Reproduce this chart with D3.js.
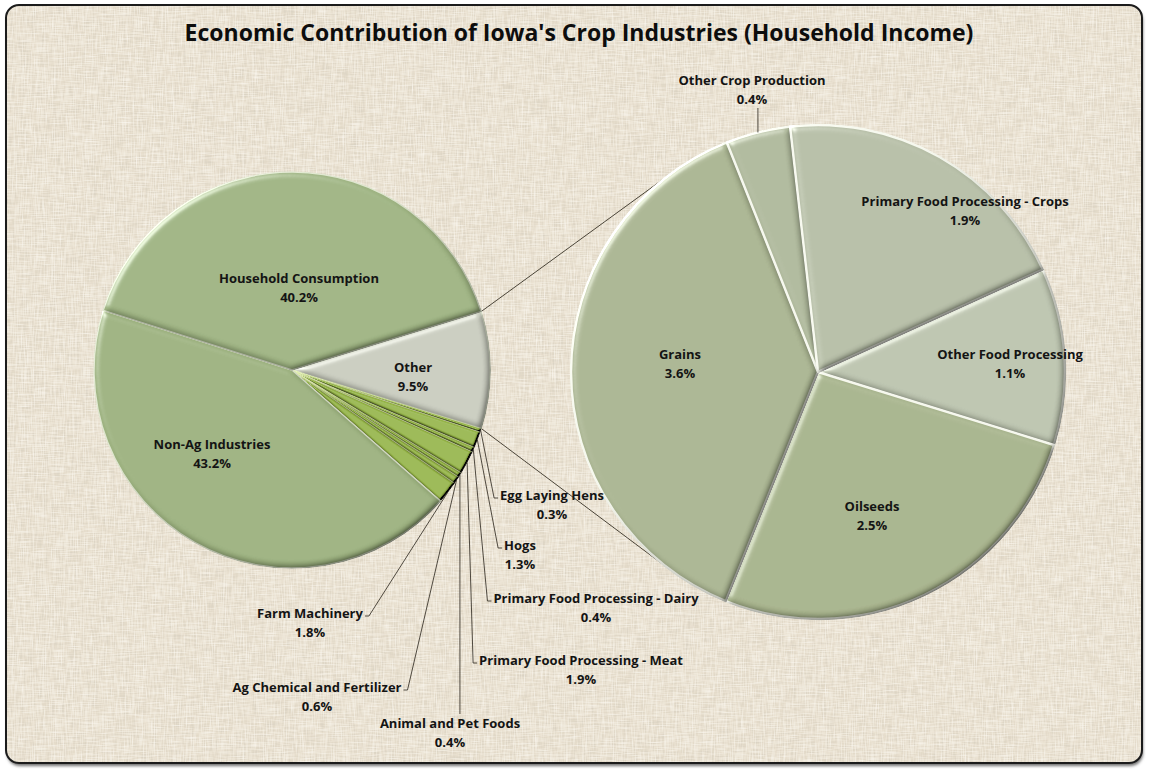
<!DOCTYPE html>
<html>
<head>
<meta charset="utf-8">
<script src="https://cdn.jsdelivr.net/npm/d3@7"></script>
<style>
  html, body { margin: 0; padding: 0; background: #ffffff; }
  svg { display: block; }
</style>
</head>
<body>
<svg id="chart" width="1149" height="771"></svg>
<script>
// ---- Data --------------------------------------------------------------
const chartTitle = "Economic Contribution of Iowa's Crop Industries (Household Income)";

// Main pie, listed clockwise starting with the "Other" slice that is broken out
const mainCategories = [
  "Other",
  "Egg Laying Hens",
  "Hogs",
  "Primary Food Processing - Dairy",
  "Primary Food Processing - Meat",
  "Animal and Pet Foods",
  "Ag Chemical and Fertilizer",
  "Farm Machinery",
  "Non-Ag Industries",
  "Household Consumption"
];
const mainValues = [9.5, 0.3, 1.3, 0.4, 1.9, 0.4, 0.6, 1.8, 43.2, 40.2];

// Breakdown of "Other" (crop industries), clockwise
const detailCategories = [
  "Other Food Processing",
  "Oilseeds",
  "Grains",
  "Other Crop Production",
  "Primary Food Processing - Crops"
];
const detailValues = [1.1, 2.5, 3.6, 0.4, 1.9];

// ---- Layout ------------------------------------------------------------
const W = 1149, H = 771;
const mainPie = { cx: 292, cy: 370, r: 198 };
const detailPie = { cx: 818, cy: 372, r: 247, startDeg: 65.5 };

const mainColors = {
  "Other": "#c8cbbe",
  "Non-Ag Industries": "#9bb07e",
  "Household Consumption": "#9db281"
};
const smallSliceColor = "#96b548";
const detailColors = {
  "Other Food Processing": "#bbc3ae",
  "Oilseeds": "#a6b28b",
  "Grains": "#a9b491",
  "Other Crop Production": "#aeb89b",
  "Primary Food Processing - Crops": "#b5bda6"
};

// Label centres (first line) for labels drawn inside slices
const insideLabels = {
  "Household Consumption": [299, 278],
  "Non-Ag Industries": [212, 444],
  "Other": [413, 367],
  "Grains": [680, 354],
  "Oilseeds": [872, 506],
  "Other Food Processing": [1010, 354],
  "Primary Food Processing - Crops": [965, 201]
};
// Callout labels with leader lines; side = where the leader meets the label
const calloutLabels = {
  "Egg Laying Hens": { x: 552, y: 495, side: "left" },
  "Hogs": { x: 520, y: 545, side: "left" },
  "Primary Food Processing - Dairy": { x: 596, y: 598, side: "left" },
  "Primary Food Processing - Meat": { x: 581, y: 660, side: "left" },
  "Animal and Pet Foods": { x: 450, y: 723, side: "top" },
  "Ag Chemical and Fertilizer": { x: 317, y: 687, side: "right" },
  "Farm Machinery": { x: 310, y: 613, side: "right" },
  "Other Crop Production": { x: 752, y: 80, side: "bottom" }
};

const fontFamily = "'Open Sans', 'Noto Sans', 'DejaVu Sans', sans-serif";
const lineGap = 19;
const fmtPct = v => d3.format(".1f")(v) + "%";
const rad = deg => deg * Math.PI / 180;

const svg = d3.select("#chart");
const defs = svg.append("defs");

// ---- Filters -------------------------------------------------------------
// Woven linen texture for the chart area
const linen = defs.append("filter").attr("id", "linen")
  .attr("filterUnits", "userSpaceOnUse")
  .attr("x", 0).attr("y", 0).attr("width", W).attr("height", H);
linen.append("feTurbulence").attr("type", "fractalNoise")
  .attr("baseFrequency", "1.1 0.06").attr("numOctaves", 2).attr("seed", 4).attr("result", "vt");
linen.append("feTurbulence").attr("type", "fractalNoise")
  .attr("baseFrequency", "0.06 1.1").attr("numOctaves", 2).attr("seed", 9).attr("result", "ht");
linen.append("feColorMatrix").attr("in", "vt").attr("type", "matrix")
  .attr("values", "0 0 0 0 0.58  0 0 0 0 0.55  0 0 0 0 0.48  -0.9 0 0 0 0.44").attr("result", "vd");
linen.append("feColorMatrix").attr("in", "ht").attr("type", "matrix")
  .attr("values", "0 0 0 0 0.58  0 0 0 0 0.55  0 0 0 0 0.48  -0.9 0 0 0 0.44").attr("result", "hd");
linen.append("feColorMatrix").attr("in", "ht").attr("type", "matrix")
  .attr("values", "0 0 0 0 0.99  0 0 0 0 0.97  0 0 0 0 0.92  1.2 0 0 0 -0.52").attr("result", "hl");
linen.append("feColorMatrix").attr("in", "vt").attr("type", "matrix")
  .attr("values", "0 0 0 0 0.99  0 0 0 0 0.97  0 0 0 0 0.92  1.2 0 0 0 -0.52").attr("result", "vl");
const lm = linen.append("feMerge").attr("result", "woven");
["SourceGraphic", "vd", "hd", "hl", "vl"].forEach(k => lm.append("feMergeNode").attr("in", k));
linen.append("feComposite").attr("in", "woven").attr("in2", "SourceAlpha").attr("operator", "in");

// Soft shadow under the frame
const frameShadow = defs.append("filter").attr("id", "frameShadow")
  .attr("x", "-5%").attr("y", "-5%").attr("width", "110%").attr("height", "110%");
frameShadow.append("feGaussianBlur").attr("stdDeviation", 1.6);

// Bevelled slice look (light from upper left)
function bevelFilter(id, blur, scale, spec, expo) {
  const f = defs.append("filter").attr("id", id)
    .attr("x", "-10%").attr("y", "-10%").attr("width", "120%").attr("height", "120%");
  f.append("feGaussianBlur").attr("in", "SourceAlpha").attr("stdDeviation", blur).attr("result", "b");
  f.append("feDiffuseLighting").attr("in", "b").attr("surfaceScale", scale)
    .attr("diffuseConstant", 1.414).attr("lighting-color", "#ffffff").attr("result", "d")
    .append("feDistantLight").attr("azimuth", 225).attr("elevation", 45);
  f.append("feComposite").attr("in", "d").attr("in2", "SourceGraphic")
    .attr("operator", "arithmetic").attr("k1", 1).attr("k2", 0).attr("k3", 0).attr("k4", 0)
    .attr("result", "shaded");
  f.append("feSpecularLighting").attr("in", "b").attr("surfaceScale", scale)
    .attr("specularConstant", spec).attr("specularExponent", expo)
    .attr("lighting-color", "#ffffff").attr("result", "s")
    .append("feDistantLight").attr("azimuth", 225).attr("elevation", 40);
  f.append("feComposite").attr("in", "shaded").attr("in2", "s")
    .attr("operator", "arithmetic").attr("k1", 0).attr("k2", 1).attr("k3", 1).attr("k4", 0)
    .attr("result", "lit");
  f.append("feComposite").attr("in", "lit").attr("in2", "SourceAlpha").attr("operator", "in");
}
bevelFilter("bevelMain", 3, 3, 0.5, 30);
bevelFilter("bevelSmall", 1.2, 4, 0.55, 28);
bevelFilter("bevelDetail", 3.5, 3.5, 0.45, 30);

// ---- Background & frame --------------------------------------------------
const frame = { x: 6, y: 5, w: 1136, h: 758, rx: 13 };
svg.append("rect")
  .attr("x", frame.x + 1).attr("y", frame.y + 3).attr("width", frame.w).attr("height", frame.h)
  .attr("rx", frame.rx).attr("fill", "#6f6f6f").attr("filter", "url(#frameShadow)");
svg.append("rect")
  .attr("x", frame.x).attr("y", frame.y).attr("width", frame.w).attr("height", frame.h)
  .attr("rx", frame.rx).attr("fill", "#e7decc").attr("filter", "url(#linen)");
svg.append("rect")
  .attr("x", frame.x).attr("y", frame.y).attr("width", frame.w).attr("height", frame.h)
  .attr("rx", frame.rx).attr("fill", "none").attr("stroke", "#1b1b1b").attr("stroke-width", 2);

// ---- Title -----------------------------------------------------------------
svg.append("text")
  .attr("x", 579).attr("y", 41)
  .attr("text-anchor", "middle")
  .attr("font-family", fontFamily).attr("font-weight", 700).attr("font-size", 23)
  .attr("fill", "#0d0d0d")
  .text(chartTitle);

// ---- Pie layouts -------------------------------------------------------------
const mainData = mainCategories.map((c, i) => ({ name: c, value: mainValues[i] }));
const detailData = detailCategories.map((c, i) => ({ name: c, value: detailValues[i] }));

const mainTotal = d3.sum(mainValues);
const otherSpan = 2 * Math.PI * mainValues[0] / mainTotal;
const mainStart = Math.PI / 2 - otherSpan / 2;   // "Other" centred at 3 o'clock

const mainArcs = d3.pie().sort(null).value(d => d.value)
  .startAngle(mainStart).endAngle(mainStart + 2 * Math.PI)(mainData);
const detailArcs = d3.pie().sort(null).value(d => d.value)
  .startAngle(rad(detailPie.startDeg)).endAngle(rad(detailPie.startDeg) + 2 * Math.PI)(detailData);

const mainArc = d3.arc().innerRadius(0).outerRadius(mainPie.r);
const detailArc = d3.arc().innerRadius(0).outerRadius(detailPie.r);

const polar = (pie, a, r) => [pie.cx + r * Math.sin(a), pie.cy - r * Math.cos(a)];

// ---- Series lines from the "Other" slice to the breakdown pie (tangents) -------
const otherArc = mainArcs[0];
const cornerTop = polar(mainPie, otherArc.startAngle, mainPie.r);
const cornerBottom = polar(mainPie, otherArc.endAngle, mainPie.r);
function tangentPoint(p, sign) {
  const dx = detailPie.cx - p[0], dy = detailPie.cy - p[1];
  const d = Math.hypot(dx, dy);
  const dir = Math.atan2(dy, dx) + sign * Math.asin(detailPie.r / d);
  const len = Math.sqrt(d * d - detailPie.r * detailPie.r);
  return [p[0] + len * Math.cos(dir), p[1] + len * Math.sin(dir)];
}
const seriesLines = [
  [cornerTop, tangentPoint(cornerTop, -1)],
  [cornerBottom, tangentPoint(cornerBottom, 1)]
];
svg.append("g").selectAll("line").data(seriesLines).join("line")
  .attr("x1", d => d[0][0]).attr("y1", d => d[0][1])
  .attr("x2", d => d[1][0]).attr("y2", d => d[1][1])
  .attr("stroke", "#4a4438").attr("stroke-width", 1);

// ---- Main pie ----------------------------------------------------------------
const gMain = svg.append("g").attr("transform", `translate(${mainPie.cx},${mainPie.cy})`);
gMain.selectAll("path").data(mainArcs).join("path")
  .attr("d", mainArc)
  .attr("fill", d => mainColors[d.data.name] || smallSliceColor)
  .attr("stroke", d => mainColors[d.data.name] ? "#dfe6cf" : "#e4f0b8")
  .attr("stroke-width", d => mainColors[d.data.name] ? 1.5 : 0.8)
  .attr("stroke-linejoin", "round")
  .attr("filter", d => mainColors[d.data.name] ? "url(#bevelMain)" : "url(#bevelSmall)");

// ---- Breakdown pie -------------------------------------------------------------
const gDetail = svg.append("g").attr("transform", `translate(${detailPie.cx},${detailPie.cy})`);
gDetail.selectAll("path").data(detailArcs).join("path")
  .attr("d", detailArc)
  .attr("fill", d => detailColors[d.data.name])
  .attr("stroke", "#f6f8ee")
  .attr("stroke-width", 2.5)
  .attr("stroke-linejoin", "round")
  .attr("filter", "url(#bevelDetail)");

// ---- Labels --------------------------------------------------------------------
const gLabels = svg.append("g")
  .attr("font-family", fontFamily).attr("font-weight", 700).attr("font-size", 13)
  .attr("fill", "#141414").attr("text-anchor", "middle");

function twoLineLabel(name, value, x, y) {
  const t = gLabels.append("text").attr("x", x).attr("y", y).attr("dy", "0.35em").text(name);
  gLabels.append("text").attr("x", x).attr("y", y + lineGap).attr("dy", "0.35em").text(fmtPct(value));
  return t.node().getComputedTextLength();
}

// inside labels
[...mainArcs, ...detailArcs].forEach(a => {
  const pos = insideLabels[a.data.name];
  if (pos) twoLineLabel(a.data.name, a.data.value, pos[0], pos[1]);
});

// callout labels with leader lines
const gLeaders = svg.append("g").attr("fill", "none")
  .attr("stroke", "#3d382f").attr("stroke-width", 0.9);
const leaderLine = d3.line();

function callout(a, pie) {
  const lay = calloutLabels[a.data.name];
  if (!lay) return;
  const w = twoLineLabel(a.data.name, a.data.value, lay.x, lay.y);
  const mid = (a.startAngle + a.endAngle) / 2;
  const edge = polar(pie, mid, pie.r);
  let pts;
  if (lay.side === "left") {
    const hx = lay.x - w / 2 - 2, hy = lay.y + 3;
    pts = [edge, [hx - 4, hy], [hx, hy]];
  } else if (lay.side === "right") {
    const hx = lay.x + w / 2 + 2, hy = lay.y + 3;
    pts = [edge, [hx + 4, hy], [hx, hy]];
  } else if (lay.side === "top") {
    pts = [edge, [edge[0], lay.y - 9]];
  } else {
    pts = [edge, [edge[0], lay.y + lineGap + 9]];
  }
  gLeaders.append("path").attr("d", leaderLine(pts));
}
mainArcs.forEach(a => callout(a, mainPie));
detailArcs.forEach(a => callout(a, detailPie));
</script>
</body>
</html>
